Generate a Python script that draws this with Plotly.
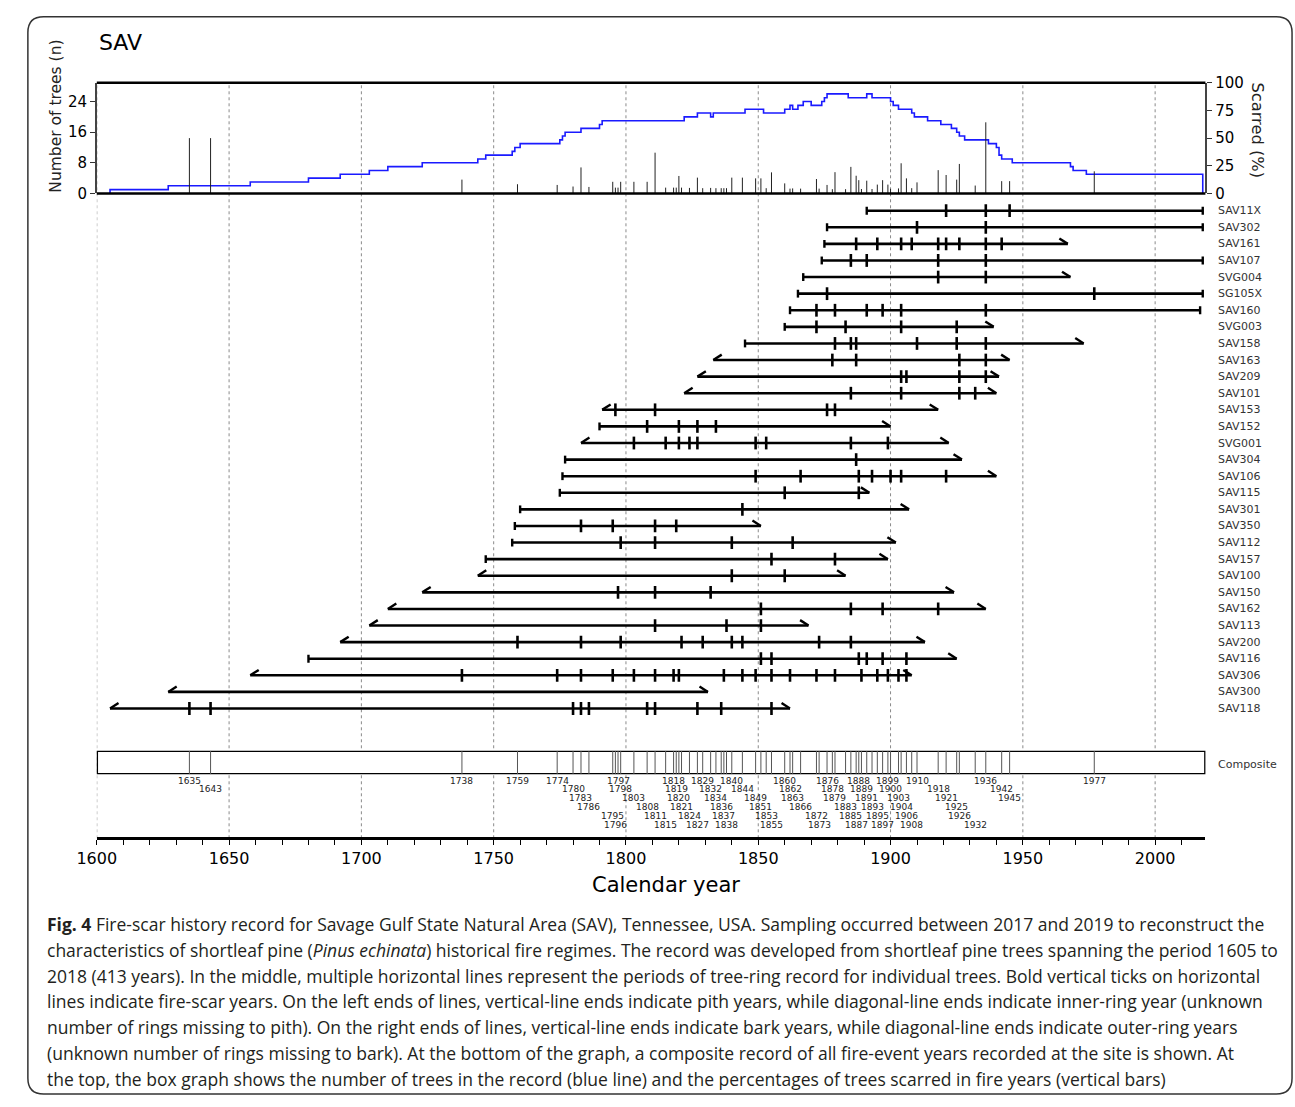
import plotly.graph_objects as go

W, H = 1295, 1107

# ---------------- data ----------------
tree_names = ["SAV11X", "SAV302", "SAV161", "SAV107", "SVG004", "SG105X", "SAV160", "SVG003",
              "SAV158", "SAV163", "SAV209", "SAV101", "SAV153", "SAV152", "SVG001", "SAV304",
              "SAV106", "SAV115", "SAV301", "SAV350", "SAV112", "SAV157", "SAV100", "SAV150",
              "SAV162", "SAV113", "SAV200", "SAV116", "SAV306", "SAV300", "SAV118"]
first_year = [1891, 1876, 1875, 1874, 1867, 1865, 1862, 1860, 1845, 1833, 1827, 1822, 1791, 1790,
              1783, 1777, 1776, 1775, 1760, 1758, 1757, 1747, 1744, 1723, 1710, 1703, 1692, 1680,
              1658, 1627, 1605]
last_year = [2018, 2018, 1967, 2018, 1968, 2018, 2017, 1939, 1973, 1945, 1941, 1940, 1918, 1900,
             1922, 1927, 1940, 1892, 1907, 1851, 1902, 1899, 1883, 1924, 1936, 1869, 1913, 1925,
             1908, 1831, 1862]
inner_type = ["pith", "pith", "pith", "pith", "pith", "pith", "pith", "pith", "pith", "inner",
              "inner", "inner", "inner", "pith", "inner", "pith", "pith", "pith", "pith", "pith",
              "pith", "pith", "inner", "inner", "inner", "inner", "inner", "pith", "inner",
              "inner", "inner"]
outer_type = ["bark", "bark", "outer", "bark", "outer", "bark", "bark", "outer", "outer", "outer",
              "outer", "outer", "outer", "outer", "outer", "outer", "outer", "outer", "outer",
              "outer", "outer", "outer", "outer", "outer", "outer", "outer", "outer", "outer",
              "outer", "outer", "outer"]
scar_years = [
    [1921, 1936, 1945],
    [1910, 1936],
    [1887, 1895, 1904, 1908, 1918, 1921, 1926, 1936, 1942],
    [1885, 1891, 1918, 1936],
    [1918, 1936],
    [1876, 1977],
    [1872, 1879, 1891, 1897, 1904, 1936],
    [1872, 1883, 1904, 1925],
    [1879, 1885, 1887, 1910, 1925, 1936],
    [1878, 1887, 1926, 1936],
    [1904, 1906, 1926, 1936],
    [1885, 1904, 1926, 1932],
    [1796, 1811, 1876, 1879],
    [1808, 1820, 1827, 1834],
    [1803, 1815, 1820, 1824, 1827, 1849, 1853, 1885, 1899],
    [1887],
    [1849, 1866, 1888, 1893, 1900, 1904, 1921],
    [1860, 1888],
    [1844],
    [1783, 1795, 1811, 1819],
    [1798, 1811, 1840, 1863],
    [1855, 1879],
    [1840, 1860],
    [1797, 1811, 1832],
    [1851, 1885, 1897, 1918],
    [1811, 1838, 1851],
    [1759, 1783, 1798, 1821, 1829, 1840, 1844, 1873, 1885],
    [1851, 1855, 1888, 1891, 1897, 1906],
    [1738, 1774, 1783, 1795, 1803, 1811, 1818, 1820, 1837, 1844, 1849, 1855, 1862, 1872,
     1879, 1889, 1895, 1899, 1903, 1906],
    [],
    [1635, 1643, 1780, 1783, 1786, 1808, 1811, 1827, 1836, 1855],
]
x_tick_years = [1600, 1650, 1700, 1750, 1800, 1850, 1900, 1950, 2000]
left_ticks = [0, 8, 16, 24]
right_ticks = [0, 25, 50, 75, 100]

caption_lines = [
    "<b>Fig. 4</b> Fire-scar history record for Savage Gulf State Natural Area (SAV), Tennessee, USA. Sampling occurred between 2017 and 2019 to reconstruct the",
    "characteristics of shortleaf pine (<i>Pinus echinata</i>) historical fire regimes. The record was developed from shortleaf pine trees spanning the period 1605 to",
    "2018 (413 years). In the middle, multiple horizontal lines represent the periods of tree-ring record for individual trees. Bold vertical ticks on horizontal",
    "lines indicate fire-scar years. On the left ends of lines, vertical-line ends indicate pith years, while diagonal-line ends indicate inner-ring year (unknown",
    "number of rings missing to pith). On the right ends of lines, vertical-line ends indicate bark years, while diagonal-line ends indicate outer-ring years",
    "(unknown number of rings missing to bark). At the bottom of the graph, a composite record of all fire-event years recorded at the site is shown. At",
    "the top, the box graph shows the number of trees in the record (blue line) and the percentages of trees scarred in fire years (vertical bars)",
]


# ---------------- layout helpers (page pixels -> paper) ----------------
def px(x):
    return x / W


def py(y):
    return 1 - y / H


XL, XR = 78, 1204
X0, X1 = 1600, 2019
ROW_TOP, ROW_BOT = 196.6, 719.5
n = len(tree_names)
row_px = (ROW_BOT - ROW_TOP) / n
SCAR_H = 6.5 / row_px
END_H = 4.0 / row_px
ARW_Y = 5.5 / row_px
ARW_X = 3.2
FONT = "DejaVu Sans"

# ---------------- derived series ----------------
years_all = list(range(min(first_year), max(last_year) + 1))


def depth_at(yr):
    return sum(1 for s, e in zip(first_year, last_year) if s <= yr <= e)


depth = [depth_at(y) for y in years_all]
comp_years = sorted(set(y for lst in scar_years for y in lst))
pct = [100.0 * sum(1 for lst in scar_years if y in lst) / depth_at(y) for y in comp_years]

fig = go.Figure()

# sample depth (blue step line)
fig.add_trace(go.Scatter(x=[years_all[0]] + years_all + [years_all[-1]],
                         y=[0] + depth + [0], mode="lines", line_shape="hv",
                         line=dict(color="#1a1aff", width=1.6), xaxis="x", yaxis="y",
                         hoverinfo="skip", showlegend=False))
# percent scarred bars
bx, by = [], []
for y, p in zip(comp_years, pct):
    bx += [y, y, None]
    by += [0, p, None]
fig.add_trace(go.Scatter(x=bx, y=by, mode="lines", line=dict(color="#222", width=1),
                         xaxis="x", yaxis="y2", hoverinfo="skip", showlegend=False))

# tree records
lx, ly, tx, ty, ex, ey = [], [], [], [], [], []
for i in range(n):
    s, e = first_year[i], last_year[i]
    lx += [s, e, None]
    ly += [i, i, None]
    for yr in scar_years[i]:
        tx += [yr, yr, None]
        ty += [i - SCAR_H, i + SCAR_H, None]
    if inner_type[i] == "pith":
        ex += [s, s, None]
        ey += [i - END_H, i + END_H, None]
    else:
        ex += [s, s + ARW_X, None]
        ey += [i, i - ARW_Y, None]
    if outer_type[i] == "bark":
        ex += [e, e, None]
        ey += [i - END_H, i + END_H, None]
    else:
        ex += [e, e - ARW_X, None]
        ey += [i, i - ARW_Y, None]
for xs, ys, w in [(lx, ly, 2.6), (tx, ty, 2.6), (ex, ey, 2.4)]:
    fig.add_trace(go.Scatter(x=xs, y=ys, mode="lines", line=dict(color="black", width=w),
                             xaxis="x", yaxis="y3", hoverinfo="skip", showlegend=False))

# composite marks
cx, cy = [], []
for y in comp_years:
    cx += [y, y, None]
    cy += [0, 1, None]
fig.add_trace(go.Scatter(x=cx, y=cy, mode="lines", line=dict(color="#555", width=1),
                         xaxis="x", yaxis="y4", hoverinfo="skip", showlegend=False))

shapes = []
for yr in x_tick_years:
    shapes.append(dict(type="line", xref="x", x0=yr, x1=yr, yref="paper", y0=py(843), y1=py(75),
                       line=dict(color="#8a8a8a", width=1, dash="dot"), layer="below"))
shapes.append(dict(type="rect", xref="x", x0=X0, x1=X1, yref="y4", y0=0, y1=1,
                   fillcolor="white", line=dict(color="black", width=2.5), layer="below"))
for yy in (75, 187.5):
    shapes.append(dict(type="line", xref="paper", x0=px(XL), x1=px(XR), yref="paper",
                       y0=py(yy), y1=py(yy), line=dict(color="black", width=2.5)))
# rounded outer frame
r = 16
L, T, R, B = 8, 8, 1292, 1103
path = (f"M {px(L + r)} {py(T)} L {px(R - r)} {py(T)} Q {px(R)} {py(T)} {px(R)} {py(T + r)} "
        f"L {px(R)} {py(B - r)} Q {px(R)} {py(B)} {px(R - r)} {py(B)} "
        f"L {px(L + r)} {py(B)} Q {px(L)} {py(B)} {px(L)} {py(B - r)} "
        f"L {px(L)} {py(T + r)} Q {px(L)} {py(T)} {px(L + r)} {py(T)} Z")
shapes.append(dict(type="path", xref="paper", yref="paper", path=path,
                   line=dict(color="#333", width=1.5)))


def note(text, x, y, size, xanchor="center", yanchor="middle", angle=0, xref="paper",
         yref="paper", color="#222", family=FONT):
    return dict(text=text, x=x, y=y, xref=xref, yref=yref, xanchor=xanchor, yanchor=yanchor,
                textangle=angle, showarrow=False, font=dict(family=family, size=size, color=color))


ann = [note("SAV", px(78), py(34), 22, xanchor="left", color="black"),
       note("Number of trees (n)", px(37), py(109), 15.5, angle=-90),
       note("Scarred (%)", px(1257), py(123), 16.3, angle=90)]
for i, nm in enumerate(tree_names):
    ann.append(note(nm, px(1215), i, 11, xanchor="left", yref="y3", color="#333"))
ann.append(note("Composite", px(1215), py(768), 11, xanchor="left", color="#333"))
# composite year labels, cascading down rows when labels would collide
row, prev = 0, None
for y in comp_years:
    row = (row + 1) % 6 if (prev is not None and y - prev < 12) else 0
    prev = y
    ann.append(note(str(y), y, py(784.5 + 8.9 * row), 9, xref="x"))
ann.append(note("Calendar year", px(656), py(890), 21, color="black"))
for k, line in enumerate(caption_lines):
    ann.append(note(line, px(25), py(930 + 26.3 * k), 17.5, xanchor="left",
                    color="#231f20", family="Open Sans"))

fig.update_layout(
    width=W, height=H, margin=dict(l=0, r=0, t=0, b=0), autosize=False,
    paper_bgcolor="white", plot_bgcolor="rgba(0,0,0,0)", showlegend=False,
    xaxis=dict(domain=[px(XL), px(XR)], range=[X0, X1], anchor="free", position=py(843),
               showline=True, linewidth=2.6, linecolor="black", tickmode="array",
               tickvals=x_tick_years, ticks="outside", ticklen=5, tickwidth=1.2,
               tickcolor="black", showgrid=False, zeroline=False,
               minor=dict(dtick=10, tick0=1600, ticks="outside", ticklen=5, tickwidth=1.2,
                          tickcolor="black", showgrid=False),
               tickfont=dict(family=FONT, size=16, color="black")),
    yaxis=dict(domain=[py(187.5), py(75)], range=[0, 28.9], anchor="x", tickmode="array",
               tickvals=left_ticks, ticks="outside", ticklen=5, tickcolor="#333",
               showline=True, linewidth=1.5, linecolor="#444", showgrid=False, zeroline=False,
               tickfont=dict(family=FONT, size=15, color="black")),
    yaxis2=dict(overlaying="y", side="right", anchor="x", range=[0, 100], tickmode="array",
                tickvals=right_ticks, ticks="outside", ticklen=5, tickcolor="#333",
                showline=True, linewidth=1.5, linecolor="#444", showgrid=False, zeroline=False,
                tickfont=dict(family=FONT, size=15, color="black")),
    yaxis3=dict(domain=[py(ROW_BOT), py(ROW_TOP)], range=[n - 0.5, -0.5], anchor="x",
                visible=False),
    yaxis4=dict(domain=[py(778), py(754)], range=[0, 1], anchor="x", visible=False),
    shapes=shapes, annotations=ann,
)

fig.write_html("out.html", config={"displayModeBar": False},
               post_script="document.body.style.margin='0';document.body.style.overflow='hidden';")
